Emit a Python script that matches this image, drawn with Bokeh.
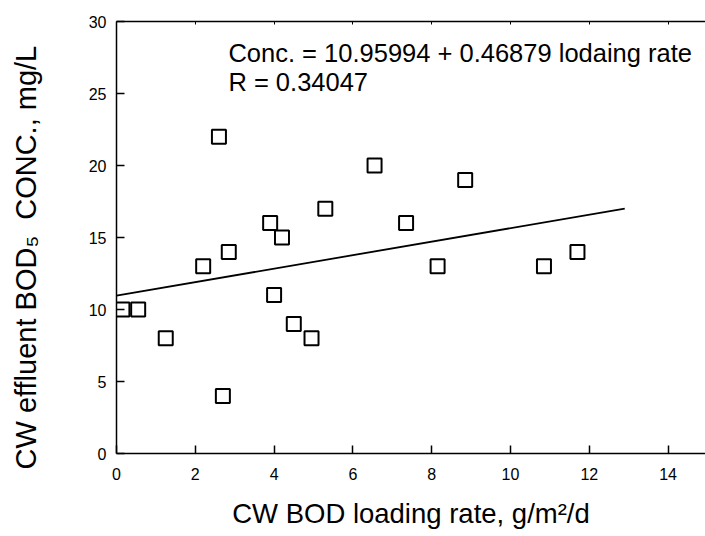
from bokeh.plotting import figure
from bokeh.models import LinearAxis, Label, FixedTicker, Range1d, CustomJSTickFormatter
from bokeh.embed import file_html
from bokeh.resources import INLINE

# ---- data ----
loading_rate = [0.15, 0.55, 1.25, 2.2, 2.6, 2.7, 2.85, 3.9, 4.0, 4.2,
                4.5, 4.95, 5.3, 6.55, 7.35, 8.15, 8.85, 10.85, 11.7]
effluent_bod = [10, 10, 8, 13, 22, 4, 14, 16, 11, 15,
                9, 8, 17, 20, 16, 13, 19, 13, 14]
fit_x = [0.0, 12.9]
fit_y = [10.96, 17.01]
x_ticks = [0, 2, 4, 6, 8, 10, 12, 14]
y_ticks = [0, 5, 10, 15, 20, 25, 30]
equation_text = "Conc. = 10.95994 + 0.46879 lodaing rate"
r_text = "R = 0.34047"
x_label = "CW BOD loading rate, g/m\u00b2/d"
# trailing no-break spaces shift the centred title down like the reference
y_label = "CW effluent BOD\u2085\u00a0 CONC., mg/L" + "\u00a0" * 5

FONT = "Liberation Sans"

p = figure(width=705, height=536, output_backend="svg", toolbar_location=None,
           x_range=Range1d(0, 14.95), y_range=Range1d(0, 30),
           min_border_left=116, min_border_right=0, min_border_top=21,
           min_border_bottom=83)

p.background_fill_color = "white"
p.border_fill_color = "white"
p.outline_line_color = None
p.grid.visible = False

# bottom axis
xa = p.xaxis[0]
xa.ticker = FixedTicker(ticks=x_ticks)
xa.major_tick_in = 8
xa.major_tick_out = 0
xa.minor_tick_line_color = None
xa.axis_line_width = 1.5
xa.major_tick_line_width = 1.5
xa.major_label_text_font = FONT
xa.major_label_text_font_size = "16px"
xa.major_label_text_color = "black"
xa.major_label_standoff = 14
xa.axis_label = x_label
xa.axis_label_text_font = FONT
xa.axis_label_text_font_size = "27.5px"
xa.axis_label_text_font_style = "normal"
xa.axis_label_text_color = "black"
xa.axis_label_standoff = 15

# left axis
ya = p.yaxis[0]
ya.ticker = FixedTicker(ticks=y_ticks)
ya.major_tick_in = 8
ya.major_tick_out = 0
ya.minor_tick_line_color = None
ya.axis_line_width = 1.5
ya.major_tick_line_width = 1.5
ya.major_label_text_font = FONT
ya.major_label_text_font_size = "16px"
ya.major_label_text_color = "black"
ya.major_label_standoff = 10
ya.axis_label = y_label
ya.axis_label_text_font = FONT
ya.axis_label_text_font_size = "29px"
ya.axis_label_text_font_style = "normal"
ya.axis_label_text_color = "black"
ya.axis_label_standoff = 44

# top frame edge with small inner ticks
top = LinearAxis(ticker=FixedTicker(ticks=x_ticks), axis_line_color="black",
                 axis_line_width=1.5,
                 major_tick_in=3, major_tick_out=0, major_tick_line_width=1,
                 minor_tick_line_color=None,
                 formatter=CustomJSTickFormatter(code="return ''"),
                 major_label_standoff=0)
p.add_layout(top, "above")

# regression line and points
p.line(fit_x, fit_y, line_color="black", line_width=1.8)
p.scatter(loading_rate, effluent_bod, marker="square", size=14,
          fill_color=None, line_color="black", line_width=2)

# equation text
p.add_layout(Label(x=2.84, y=27.8, text=equation_text, text_font=FONT,
                   text_font_size="25.5px", text_color="black",
                   text_baseline="alphabetic"))
p.add_layout(Label(x=2.84, y=25.8, text=r_text, text_font=FONT,
                   text_font_size="25.5px", text_color="black",
                   text_baseline="alphabetic"))

open("out.html", "w").write(file_html(p, INLINE))
